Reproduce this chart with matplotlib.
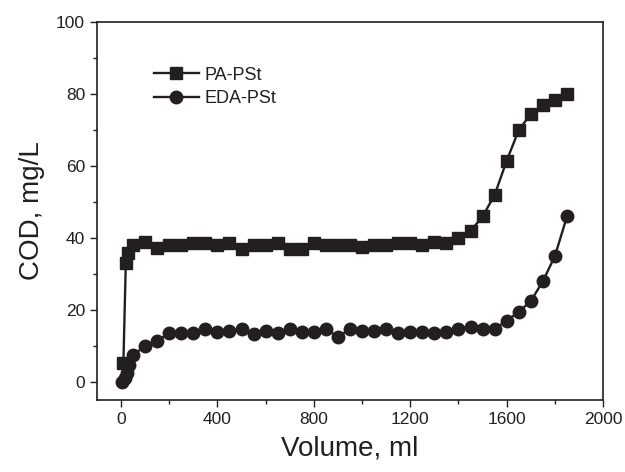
import matplotlib.pyplot as plt
from matplotlib.ticker import MultipleLocator

plt.rcParams['font.family'] = ['Liberation Sans', 'DejaVu Sans']

# PA-PSt
vol_pa = [10, 20, 30, 50, 100, 150, 200, 250, 300, 350, 400, 450, 500, 550, 600,
          650, 700, 750, 800, 850, 900, 950, 1000, 1050, 1100, 1150, 1200, 1250,
          1300, 1350, 1400, 1450, 1500, 1550, 1600, 1650, 1700, 1750, 1800, 1850]
cod_pa = [5.3, 33, 35.8, 38, 39, 37.2, 38, 38, 38.5, 38.5, 38, 38.5, 37, 38, 38,
          38.5, 37, 37, 38.5, 38, 38, 38, 37.5, 38, 38, 38.5, 38.5, 38, 39, 38.5,
          40, 42, 46, 52, 61.5, 70, 74.5, 77, 78.5, 80]

# EDA-PSt
vol_eda = [5, 15, 25, 35, 50, 100, 150, 200, 250, 300, 350, 400, 450, 500, 550,
           600, 650, 700, 750, 800, 850, 900, 950, 1000, 1050, 1100, 1150, 1200,
           1250, 1300, 1350, 1400, 1450, 1500, 1550, 1600, 1650, 1700, 1750, 1800, 1850]
cod_eda = [0, 1, 2.5, 4.6, 7.5, 10, 11.5, 13.5, 13.5, 13.5, 14.8, 14, 14.3, 14.8, 13.3,
           14.3, 13.5, 14.8, 14, 14, 14.8, 12.5, 14.8, 14.2, 14.2, 14.8, 13.5, 14,
           14, 13.5, 14, 14.8, 15.3, 14.8, 14.8, 17, 19.5, 22.5, 28, 35, 46]

col = '#231f20'

fig = plt.figure(figsize=(6.25, 4.72), dpi=100)
ax = fig.add_axes([0.155, 0.1525, 0.81, 0.8005])

ax.plot(vol_pa, cod_pa, '-s', color=col, lw=1.7, ms=8, label='PA-PSt')
ax.plot(vol_eda, cod_eda, '-o', color=col, lw=1.7, ms=9, label='EDA-PSt')

ax.set_xlim(-100, 2000)
ax.set_ylim(-5, 100)
ax.xaxis.set_major_locator(MultipleLocator(400))
ax.xaxis.set_minor_locator(MultipleLocator(200))
ax.yaxis.set_major_locator(MultipleLocator(20))
ax.yaxis.set_minor_locator(MultipleLocator(10))
ax.tick_params(which='both', direction='out', color=col, labelcolor=col, labelsize=12.5)
ax.tick_params(which='major', length=5, width=1)
ax.tick_params(which='minor', length=3, width=1)
for s in ax.spines.values():
    s.set_color(col)
    s.set_linewidth(1.2)

ax.set_xlabel('Volume, ml', fontsize=20, color=col, labelpad=6)
ax.set_ylabel('COD, mg/L', fontsize=20, color=col, labelpad=8)

ax.legend(loc='upper left', bbox_to_anchor=(0.08, 0.925), frameon=False,
          fontsize=13, handlelength=2.5, handletextpad=0.3, labelspacing=0.35,
          labelcolor=col)

fig.savefig('out.png', dpi=100)
